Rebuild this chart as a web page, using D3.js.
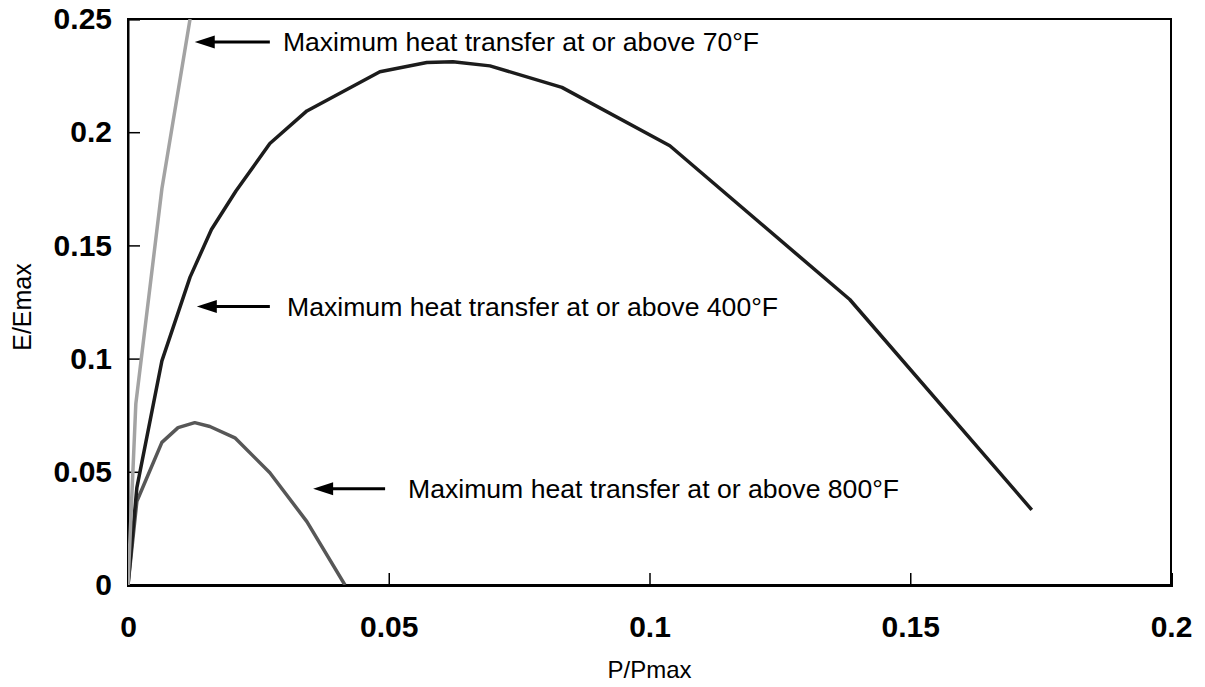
<!DOCTYPE html>
<html>
<head>
<meta charset="utf-8">
<script src="https://cdn.jsdelivr.net/npm/d3@7"></script>
<style>
  html, body { margin: 0; padding: 0; background: #fff; }
  svg { display: block; font-family: Arial, "Liberation Sans", sans-serif; }
</style>
</head>
<body>
<svg id="chart" width="1205" height="687"></svg>
<script>
// ---- data ----
const xTicks = [0, 0.05, 0.1, 0.15, 0.2];
const yTicks = [0, 0.05, 0.1, 0.15, 0.2, 0.25];
const xTickLabels = ["0", "0.05", "0.1", "0.15", "0.2"];
const yTickLabels = ["0", "0.05", "0.1", "0.15", "0.2", "0.25"];

const curve70 = [
  [0, 0], [0.0015, 0.080], [0.0065, 0.175], [0.0119, 0.25]
];
const curve400 = [
  [0, 0], [0.0017, 0.043], [0.0065, 0.099], [0.0119, 0.136], [0.016, 0.157],
  [0.0207, 0.174], [0.0272, 0.195], [0.0343, 0.2094], [0.0483, 0.2267],
  [0.0573, 0.2308], [0.0623, 0.2311], [0.0694, 0.2293], [0.0832, 0.2198],
  [0.1039, 0.194], [0.1384, 0.1261], [0.1733, 0.0332]
];
const curve800 = [
  [0, 0], [0.0017, 0.037], [0.0065, 0.063], [0.0096, 0.0695], [0.0128, 0.0717],
  [0.0157, 0.070], [0.0205, 0.065], [0.0272, 0.0496], [0.0343, 0.028], [0.0416, 0]
];
const annotations = [
  { text: "Maximum heat transfer at or above 70°F",  tipX: 0.0128, tailX: 0.0272, textX: 0.0297, y: 0.2398 },
  { text: "Maximum heat transfer at or above 400°F", tipX: 0.0132, tailX: 0.0272, textX: 0.0305, y: 0.1230 },
  { text: "Maximum heat transfer at or above 800°F", tipX: 0.0355, tailX: 0.0493, textX: 0.0537, y: 0.0425 }
];

// ---- layout ----
const svg = d3.select("#chart");
const mLeft = 128, mRight = 1171, mTop = 19, mBottom = 585;
const x = d3.scaleLinear().domain([0, 0.2]).range([mLeft, mRight]);
const y = d3.scaleLinear().domain([0, 0.25]).range([mBottom, mTop]);

svg.append("defs").append("clipPath").attr("id", "clip")
  .append("rect").attr("x", mLeft).attr("y", mTop).attr("width", mRight - mLeft).attr("height", mBottom - mTop);

// frame
svg.append("rect").attr("x", mLeft).attr("y", mTop).attr("width", mRight - mLeft).attr("height", mBottom - mTop)
  .attr("fill", "none").attr("stroke", "#000").attr("stroke-width", 2);

// axes with inward ticks
const xAxis = d3.axisBottom(x).tickValues(xTicks).tickSize(-12).tickPadding(35)
  .tickFormat((d, i) => xTickLabels[i]);
const gx = svg.append("g").attr("transform", `translate(0,${mBottom})`).call(xAxis);
gx.select(".domain").attr("stroke-width", 3);
gx.selectAll(".tick line").attr("stroke-width", 1.5);
gx.selectAll(".tick text").attr("font-size", 30).attr("font-weight", "bold")
  .attr("font-family", "Arial, 'Liberation Sans', sans-serif").attr("fill", "#000").attr("dy", "0.55em");

const yAxis = d3.axisLeft(y).tickValues(yTicks).tickSize(-12).tickPadding(16)
  .tickFormat((d, i) => yTickLabels[i]);
const gy = svg.append("g").attr("transform", `translate(${mLeft},0)`).call(yAxis);
gy.select(".domain").attr("stroke-width", 2);
gy.selectAll(".tick line").attr("stroke-width", 1.5);
gy.selectAll(".tick text").attr("font-size", 30).attr("font-weight", "bold")
  .attr("font-family", "Arial, 'Liberation Sans', sans-serif").attr("fill", "#000");

// axis titles
svg.append("text").attr("x", (mLeft + mRight) / 2).attr("y", 678)
  .attr("text-anchor", "middle").attr("font-size", 24).text("P/Pmax");
svg.append("text").attr("transform", `translate(31,307) rotate(-90)`)
  .attr("text-anchor", "middle").attr("font-size", 25).text("E/Emax");

// curves
const line = d3.line().x(d => x(d[0])).y(d => y(d[1]));
const plot = svg.append("g").attr("clip-path", "url(#clip)");
plot.append("path").datum(curve800).attr("d", line).attr("fill", "none")
  .attr("stroke", "#575757").attr("stroke-width", 3.5).attr("stroke-linejoin", "round");
plot.append("path").datum(curve400).attr("d", line).attr("fill", "none")
  .attr("stroke", "#1c1c1c").attr("stroke-width", 3.5).attr("stroke-linejoin", "round");
plot.append("path").datum(curve70).attr("d", line).attr("fill", "none")
  .attr("stroke", "#a3a3a3").attr("stroke-width", 3.5).attr("stroke-linejoin", "round");

// annotations: arrows + text
const ann = svg.append("g");
annotations.forEach(a => {
  const yy = y(a.y), tip = x(a.tipX), tail = x(a.tailX);
  ann.append("line").attr("x1", tip + 14).attr("x2", tail).attr("y1", yy).attr("y2", yy)
    .attr("stroke", "#000").attr("stroke-width", 3);
  ann.append("path").attr("d", `M${tip},${yy} L${tip + 20},${yy - 6.5} L${tip + 20},${yy + 6.5} Z`).attr("fill", "#000");
  ann.append("text").attr("x", x(a.textX)).attr("y", yy).attr("dy", "0.35em")
    .attr("font-size", 26.6).attr("fill", "#000").text(a.text);
});
</script>
</body>
</html>
